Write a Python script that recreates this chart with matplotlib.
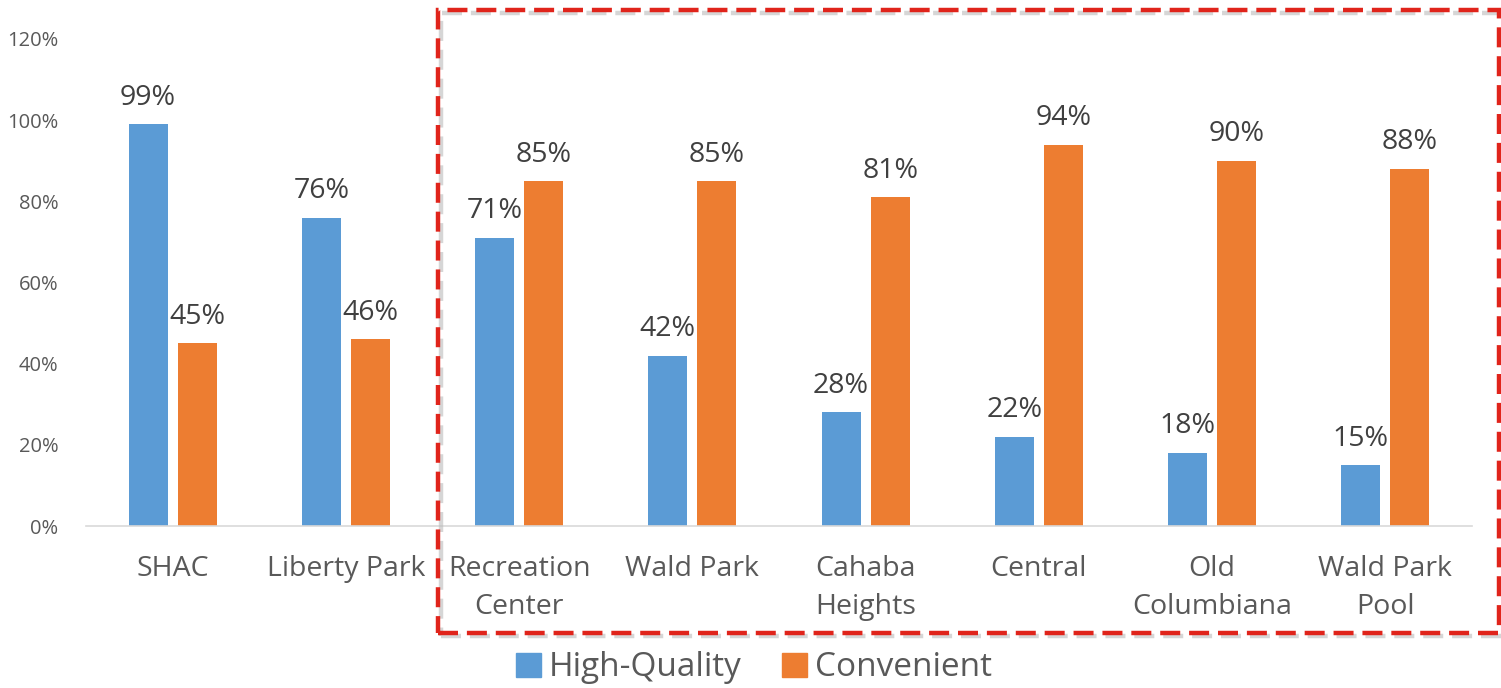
import matplotlib
matplotlib.use('Agg')
import matplotlib.pyplot as plt
from matplotlib.patches import Rectangle, Patch
import numpy as np

categories = ['SHAC', 'Liberty Park', 'Recreation\nCenter', 'Wald Park',
              'Cahaba\nHeights', 'Central', 'Old\nColumbiana', 'Wald Park\nPool']
high_quality = [99, 76, 71, 42, 28, 22, 18, 15]
convenient = [45, 46, 85, 85, 81, 94, 90, 88]
yticks = [0, 20, 40, 60, 80, 100, 120]

BLUE = '#5B9BD5'
ORANGE = '#ED7D31'

plt.rcParams['font.family'] = ['Open Sans', 'DejaVu Sans']

fig = plt.figure(figsize=(15.01, 6.88), dpi=100)
ax = fig.add_axes([86 / 1501, 1 - 526 / 688, (1472 - 86) / 1501, (526 - 39) / 688])

x = np.arange(len(categories))
w = 0.225
off = 0.142
ax.bar(x - off, high_quality, w, color=BLUE, label='High-Quality')
ax.bar(x + off, convenient, w, color=ORANGE, label='Convenient')

for xi, v in zip(x - off, high_quality):
    ax.annotate(f'{v}%', (xi, v), xytext=(0, 9), textcoords='offset points',
                ha='center', va='bottom', fontsize=20.5, color='#404040')
for xi, v in zip(x + off, convenient):
    ax.annotate(f'{v}%', (xi, v), xytext=(0, 9), textcoords='offset points',
                ha='center', va='bottom', fontsize=20.5, color='#404040')

ax.set_xlim(-0.5, len(categories) - 0.5)
ax.set_ylim(0, 120)
ax.set_yticks(yticks)
ax.set_yticklabels([f'{t}%' for t in yticks], fontsize=14.5, color='#595959')
ax.set_xticks(x)
ax.set_xticklabels(categories, fontsize=20.5, color='#595959', linespacing=1.45)
ax.tick_params(axis='x', length=0, pad=21)
ax.tick_params(axis='y', length=0, pad=20)
for s in ['top', 'right', 'left']:
    ax.spines[s].set_visible(False)
ax.spines['bottom'].set_color('#D9D9D9')
ax.spines['bottom'].set_linewidth(1.2)

# dashed highlight box with a soft shadow
x0, y0 = 438 / 1501, 1 - 633 / 688
bw, bh = (1499 - 438) / 1501, (633 - 10) / 688
fig.patches.append(Rectangle((x0 + 0.002, y0 - 0.004), bw, bh, transform=fig.transFigure,
                             fill=False, edgecolor='#BBBBBB', linewidth=3.2,
                             linestyle=(0, (4.5, 2)), alpha=0.6, zorder=4))
fig.patches.append(Rectangle((x0, y0), bw, bh, transform=fig.transFigure,
                             fill=False, edgecolor='#E0241B', linewidth=3.2,
                             linestyle=(0, (4.5, 2)), zorder=5))

handles = [Patch(color=BLUE), Patch(color=ORANGE)]
fig.legend(handles, ['High-Quality', 'Convenient'], loc='center',
           bbox_to_anchor=(754 / 1501, 1 - 668 / 688), ncol=2, frameon=False,
           fontsize=24, labelcolor='#595959', handlelength=0.75, handleheight=0.75,
           handletextpad=0.25, columnspacing=1.2)

fig.savefig('out.png', dpi=100)
